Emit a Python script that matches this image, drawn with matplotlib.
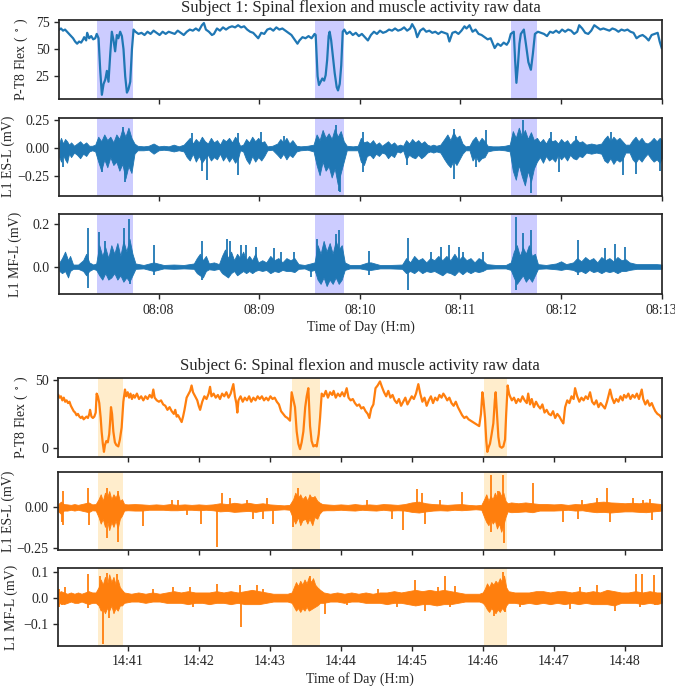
import numpy as np
import matplotlib
matplotlib.use("Agg")
import matplotlib.pyplot as plt
from matplotlib.ticker import FuncFormatter, MultipleLocator, FixedLocator

plt.rcParams['font.family'] = ['Liberation Serif', 'DejaVu Serif']
plt.rcParams['mathtext.fontset'] = 'stix'
plt.rcParams['font.size'] = 10
plt.rcParams['axes.edgecolor'] = '.15'
plt.rcParams['axes.linewidth'] = 1.25
plt.rcParams['xtick.color'] = '.15'
plt.rcParams['ytick.color'] = '.15'
plt.rcParams['text.color'] = '.15'
plt.rcParams['axes.labelcolor'] = '.15'

# ---------------- Subject 1 (08:xx), time in minutes past the hour ----------------
s1_hour = 8
s1_shades = [(7.383, 7.749), (9.551, 9.843), (11.50, 11.765)]

s1_flex_t = [7.014, 7.03, 7.05, 7.07, 7.09, 7.11, 7.13, 7.15, 7.17, 7.19, 7.21, 7.23, 7.25, 7.26, 7.28, 7.29,
             7.31, 7.33, 7.35, 7.37, 7.385, 7.403, 7.42, 7.436, 7.453, 7.47, 7.486, 7.502, 7.519, 7.535, 7.552,
             7.568, 7.585, 7.60, 7.618, 7.635, 7.651, 7.668, 7.685, 7.70, 7.718, 7.735, 7.751,
             7.77, 7.80, 7.83, 7.86, 7.89, 7.92, 7.95, 7.98, 8.01, 8.04, 8.07, 8.10, 8.13, 8.16, 8.19, 8.22,
             8.25, 8.28, 8.31, 8.34, 8.37, 8.40, 8.43, 8.45, 8.47, 8.50, 8.53, 8.55, 8.58, 8.61, 8.64, 8.67,
             8.70, 8.73, 8.76, 8.79, 8.82, 8.85, 8.88, 8.91, 8.94, 8.97, 8.99, 9.02, 9.05, 9.08, 9.11, 9.14,
             9.17, 9.20, 9.23, 9.26, 9.29, 9.32, 9.35, 9.38, 9.40, 9.43, 9.46, 9.49, 9.52, 9.55,
             9.561, 9.570, 9.580, 9.594, 9.61, 9.627, 9.645, 9.66, 9.675, 9.69, 9.70, 9.715, 9.73, 9.75, 9.77,
             9.783, 9.80, 9.815, 9.83, 9.845,
             9.87, 9.90, 9.93, 9.96, 9.99, 10.02, 10.05, 10.08, 10.11, 10.14, 10.17, 10.20, 10.23, 10.26,
             10.29, 10.32, 10.35, 10.38, 10.41, 10.44, 10.47, 10.50, 10.52, 10.55, 10.57, 10.60, 10.63, 10.66,
             10.69, 10.72, 10.75, 10.78, 10.81, 10.84, 10.87, 10.89, 10.92, 10.95, 10.98, 11.01, 11.04, 11.06,
             11.09, 11.12, 11.15, 11.18, 11.21, 11.24, 11.27, 11.30, 11.34, 11.37, 11.40, 11.43, 11.46, 11.48,
             11.50, 11.53, 11.543, 11.556, 11.57, 11.586, 11.60, 11.63, 11.65, 11.675, 11.70, 11.72, 11.74, 11.77,
             11.80, 11.83, 11.86, 11.89, 11.92, 11.95, 11.98, 12.01, 12.04, 12.07, 12.10, 12.13, 12.16, 12.18,
             12.21, 12.24, 12.27, 12.30, 12.33, 12.36, 12.39, 12.42, 12.45, 12.48, 12.51, 12.54, 12.57, 12.60,
             12.63, 12.66, 12.69, 12.72, 12.75, 12.78, 12.81, 12.84, 12.87, 12.90, 12.93, 12.96, 12.98, 13.0]
s1_flex_v = [68, 69, 67, 68, 66, 64, 62, 60, 57, 55, 57, 56, 59, 61, 58, 65,
             60, 62, 59, 60, 64, 60, 30, 8, 18, 22, 30, 20, 45, 66, 58,
             48, 63, 60, 66, 62, 50, 25, 10, 13, 20, 50, 68,
             66, 64, 65, 63, 66, 64, 67, 65, 63, 66, 64, 66, 65, 64, 67, 65,
             63, 66, 68, 67, 69, 67, 72, 74, 68, 66, 63, 64, 69, 67, 70, 68,
             70, 71, 70, 72, 70, 71, 68, 66, 65, 62, 60, 65, 64, 68, 69, 67,
             70, 68, 69, 67, 65, 63, 59, 55, 58, 61, 60, 62, 60, 64,
             63, 45, 25, 17, 20, 23, 21, 26, 40, 62, 66, 58, 45, 28, 15,
             12, 18, 35, 66, 68,
             64, 66, 63, 65, 62, 64, 61, 58, 63, 66, 64, 67, 65, 66,
             68, 67, 69, 67, 68, 70, 67, 69, 73, 68, 61, 67, 69, 66,
             67, 65, 66, 64, 66, 65, 64, 57, 65, 66, 64, 67, 71, 69,
             72, 66, 68, 64, 63, 61, 59, 60, 51, 55, 53, 56, 54, 57,
             64, 66, 40, 19, 34, 55, 64, 68, 55, 38, 31, 46, 64, 66,
             65, 64, 62, 66, 65, 67, 65, 68, 66, 68, 67, 64, 66, 72,
             69, 65, 64, 67, 72, 70, 68, 69, 68, 67, 69, 68, 66, 68,
             67, 68, 66, 65, 60, 62, 63, 61, 58, 63, 64, 65, 57, 51]

s1_es_t = [7.014, 7.03, 7.05, 7.07, 7.09, 7.11, 7.13, 7.16, 7.19, 7.22, 7.25, 7.28, 7.31, 7.34, 7.37,
           7.40, 7.43, 7.46, 7.49, 7.52, 7.55, 7.58, 7.61, 7.64, 7.67, 7.70, 7.73,
           7.76, 7.79, 7.85, 7.90, 7.95, 8.00, 8.05, 8.10, 8.15, 8.20, 8.25,
           8.28, 8.31, 8.34, 8.37, 8.40, 8.43, 8.46, 8.49, 8.52, 8.55, 8.58, 8.61, 8.64, 8.67, 8.70, 8.73, 8.76, 8.79,
           8.81, 8.84,
           8.87, 8.90, 8.93, 8.96, 8.99, 9.02, 9.05,
           9.08, 9.13,
           9.18, 9.21, 9.24, 9.27, 9.30, 9.33,
           9.37, 9.41, 9.48, 9.54,
           9.57, 9.60, 9.63, 9.66, 9.69, 9.72, 9.75, 9.78, 9.81, 9.84,
           9.87, 9.93, 9.98,
           10.01, 10.04, 10.07,
           10.10, 10.13, 10.16, 10.19, 10.22, 10.25, 10.28, 10.31, 10.34,
           10.37, 10.40, 10.43,
           10.46, 10.49, 10.52, 10.55, 10.58, 10.61, 10.64,
           10.67, 10.70, 10.73, 10.76, 10.80,
           10.84, 10.87, 10.90, 10.93, 10.96, 10.99,
           11.02, 11.05, 11.09,
           11.12, 11.15, 11.18, 11.21, 11.24,
           11.27, 11.32, 11.38, 11.44, 11.49,
           11.52, 11.55, 11.58, 11.61, 11.64, 11.67, 11.70, 11.73,
           11.76, 11.79, 11.82, 11.85, 11.88, 11.91, 11.94, 11.97, 12.00, 12.03, 12.06, 12.09, 12.12, 12.15, 12.18, 12.21,
           12.25, 12.30, 12.35, 12.40,
           12.43, 12.46, 12.49, 12.52, 12.55, 12.58, 12.61,
           12.64, 12.68,
           12.71, 12.74, 12.77, 12.80, 12.83, 12.86, 12.89, 12.92, 12.95, 12.98, 13.0]
s1_es_hi = [.05, .09, .04, .08, .06, .03, .05, .02, .04, .06, .03, .05, .02, .02, .03,
            .10, .06, .12, .07, .10, .05, .12, .08, .17, .10, .18, .09,
            .04, .02, .015, .02, .04, .015, .02, .015, .03, .015, .03,
            .06, .09, .04, .08, .05, .10, .06, .04, .09, .05, .07, .03, .08, .06, .09, .05, .10, .06,
            .02, .03,
            .08, .05, .10, .06, .09, .05, .06,
            .015, .02,
            .04, .08, .05, .09, .04, .07,
            .02, .015, .02, .03,
            .12, .07, .16, .09, .13, .08, .17, .10, .15, .06,
            .02, .015, .02,
            .09, .05, .06,
            .04, .07, .03, .05, .02, .04, .06, .03, .05,
            .02, .03, .02,
            .07, .04, .08, .05, .07, .04, .06,
            .03, .02, .03, .02, .03,
            .08, .12, .07, .14, .09, .11,
            .04, .015, .02,
            .07, .10, .05, .09, .06,
            .02, .015, .015, .02, .03,
            .15, .09, .18, .10, .16, .08, .14, .07,
            .09, .05, .08, .04, .09, .06, .07, .04, .08, .05, .07, .03, .06, .08, .05, .06,
            .03, .04, .03, .04,
            .08, .11, .06, .10, .07, .09, .06,
            .03, .03,
            .07, .10, .06, .09, .05, .04, .06, .09, .06, .09, .07]
s1_es_lo = [-.08, -.12, -.06, -.10, -.13, -.05, -.08, -.04, -.06, -.09, -.05, -.07, -.03, -.02, -.03,
            -.12, -.20, -.10, -.17, -.08, -.15, -.12, -.20, -.14, -.27, -.16, -.22,
            -.05, -.02, -.02, -.015, -.05, -.02, -.015, -.02, -.03, -.02, -.03,
            -.08, -.11, -.05, -.12, -.07, -.13, -.09, -.06, -.11, -.08, -.10, -.05, -.11, -.07, -.12, -.08, -.13, -.09,
            -.02, -.03,
            -.10, -.14, -.07, -.12, -.08, -.11, -.07,
            -.02, -.015,
            -.06, -.09, -.05, -.10, -.06, -.08,
            -.03, -.02, -.015, -.03,
            -.15, -.24, -.12, -.20, -.16, -.26, -.18, -.32, -.22, -.12,
            -.02, -.02, -.02,
            -.12, -.15, -.07,
            -.06, -.09, -.05, -.07, -.04, -.05, -.09, -.06, -.08,
            -.03, -.04, -.02,
            -.10, -.06, -.08, -.09, -.06, -.09, -.07,
            -.04, -.03, -.04, -.03, -.04,
            -.10, -.14, -.17, -.11, -.15, -.10,
            -.05, -.02, -.02,
            -.11, -.07, -.12, -.09, -.08,
            -.03, -.02, -.015, -.02, -.03,
            -.20, -.28, -.15, -.25, -.33, -.20, -.30, -.18,
            -.12, -.08, -.13, -.07, -.11, -.09, -.12, -.06, -.10, -.07, -.11, -.06, -.09, -.10, -.07, -.08,
            -.04, -.05, -.04, -.05,
            -.11, -.13, -.09, -.14, -.10, -.12, -.10,
            -.04, -.04,
            -.10, -.13, -.09, -.12, -.08, -.05, -.09, -.12, -.10, -.13, -.09]
s1_es_spk_t = [7.054, 7.436, 7.651, 7.668, 8.332, 8.432, 8.482, 8.787, 8.79, 9.013, 9.245, 9.760, 9.793,
               9.803, 10.032, 10.467, 10.932, 10.938, 11.154, 11.254, 11.619, 11.702, 11.901, 11.984,
               12.150, 12.499, 12.615, 12.748, 12.98]
s1_es_spk_hi = [0, 0, .19, 0, .13, 0, 0, 0, .13, .14, .11, .20, 0,
                0, .14, 0, .17, 0, 0, .16, .245, 0, .14, 0,
                .11, .14, 0, 0, 0]
s1_es_spk_lo = [-.17, -.21, 0, -.30, 0, -.20, -.28, -.24, 0, 0, 0, 0, -.38,
                -.39, -.21, -.15, 0, -.27, -.17, 0, 0, -.40, 0, -.21,
                0, 0, -.24, -.23, -.20]

s1_mf_t = [7.014, 7.04, 7.07, 7.10, 7.12, 7.15, 7.20, 7.25, 7.28, 7.31, 7.35, 7.38,
           7.41, 7.44, 7.47, 7.50, 7.53, 7.56, 7.59, 7.62, 7.65, 7.68, 7.71, 7.74,
           7.77, 7.85, 7.95, 8.05, 8.15, 8.25, 8.35,
           8.38, 8.41, 8.44, 8.47, 8.50, 8.55, 8.60,
           8.63, 8.66, 8.69, 8.72, 8.75, 8.78, 8.81, 8.84, 8.87, 8.90, 8.93, 8.96, 8.99,
           9.03, 9.07, 9.11, 9.15, 9.19, 9.23, 9.27, 9.31, 9.35,
           9.39, 9.45, 9.51, 9.55,
           9.58, 9.61, 9.64, 9.67, 9.70, 9.73, 9.76, 9.79, 9.82,
           9.85, 9.90, 10.00, 10.08, 10.11, 10.20, 10.30, 10.42,
           10.46, 10.50, 10.54, 10.58, 10.62, 10.66, 10.70, 10.74, 10.78, 10.82, 10.86, 10.90, 10.94, 10.98,
           11.02, 11.06, 11.10, 11.14, 11.18, 11.22,
           11.26, 11.35, 11.45, 11.50,
           11.53, 11.56, 11.59, 11.62, 11.65, 11.68, 11.71, 11.74,
           11.77, 11.85, 11.95, 12.00, 12.05, 12.12,
           12.16, 12.20, 12.24, 12.28, 12.32, 12.36, 12.40, 12.44, 12.48, 12.52, 12.56, 12.60, 12.64,
           12.68, 12.75, 12.85, 12.95, 13.0]
s1_mf_hi = [.02, .04, .07, .03, .05, .01, .01, .03, .06, .02, .01, .015,
            .10, .05, .09, .04, .10, .06, .11, .05, .12, .07, .13, .06,
            .015, .008, .02, .008, .01, .008, .015,
            .04, .06, .03, .05, .015, .02, .012,
            .05, .08, .04, .07, .03, .06, .04, .07, .03, .05, .03, .06, .02,
            .03, .02, .05, .03, .04, .02, .04, .03, .04,
            .012, .008, .015, .02,
            .10, .06, .12, .07, .11, .06, .12, .08, .10,
            .02, .008, .008, .02, .02, .008, .008, .01,
            .04, .02, .05, .03, .04, .02, .04, .03, .05, .03, .05, .03, .06, .03,
            .05, .03, .04, .02, .04, .03,
            .012, .008, .008, .02,
            .07, .10, .05, .09, .06, .10, .05, .06,
            .012, .008, .015, .025, .012, .02,
            .04, .025, .045, .03, .04, .02, .045, .03, .04, .025, .045, .03, .035,
            .02, .012, .012, .012, .01]
s1_mf_lo = [-.02, -.03, -.02, -.05, -.02, -.01, -.01, -.02, -.04, -.02, -.01, -.015,
            -.04, -.06, -.03, -.06, -.05, -.03, -.06, -.04, -.07, -.05, -.07, -.04,
            -.01, -.008, -.02, -.008, -.01, -.008, -.01,
            -.03, -.04, -.05, -.02, -.012, -.015, -.01,
            -.03, -.04, -.05, -.03, -.02, -.04, -.03, -.02, -.03, -.02, -.03, -.02, -.015,
            -.02, -.015, -.03, -.02, -.025, -.015, -.02, -.02, -.025,
            -.01, -.008, -.02, -.015,
            -.06, -.08, -.05, -.09, -.06, -.08, -.05, -.08, -.06,
            -.015, -.008, -.008, -.015, -.015, -.008, -.008, -.01,
            -.03, -.02, -.03, -.015, -.03, -.02, -.025, -.02, -.03, -.04, -.025, -.03, -.04, -.02,
            -.035, -.02, -.03, -.02, -.025, -.02,
            -.01, -.008, -.008, -.015,
            -.05, -.08, -.06, -.04, -.07, -.05, -.07, -.04,
            -.01, -.008, -.012, -.015, -.01, -.015,
            -.025, -.02, -.03, -.015, -.025, -.02, -.03, -.02, -.025, -.02, -.03, -.02, -.02,
            -.015, -.01, -.01, -.01, -.01]
s1_mf_spk_t = [7.294, 7.410, 7.469, 7.659, 7.701, 7.718, 7.951, 8.432, 8.681, 8.714, 8.814, 8.864, 8.964,
               9.146, 9.212, 9.345, 9.511, 9.577, 9.76, 9.793, 10.092, 10.474, 10.706, 10.806, 10.889,
               10.988, 11.021, 11.221, 11.553, 11.619, 11.702, 12.167, 12.432, 12.532, 12.632]
s1_mf_spk_hi = [.18, .16, .12, .18, .22, 0, .10, .12, .13, .12, .10, .10, .09,
                .085, .07, .07, 0, .13, .15, .17, .075, .135, .07, .09, .10,
                .09, .07, .07, .23, .155, .17, .125, .085, .105, .09]
s1_mf_spk_lo = [-.10, 0, 0, 0, 0, -.08, -.04, -.06, 0, 0, 0, 0, 0,
                0, 0, 0, -.05, 0, 0, 0, -.04, -.11, 0, 0, 0,
                0, 0, 0, -.11, 0, 0, -.04, 0, 0, 0]

# ---------------- Subject 6 (14:xx) ----------------
s6_hour = 14
s6_shades = [(40.582, 40.934), (43.314, 43.713), (46.018, 46.342)]

s6_flex_t = [40.023, 40.04, 40.06, 40.08, 40.10, 40.12, 40.14, 40.16, 40.18, 40.20, 40.22, 40.24, 40.26,
             40.28, 40.30, 40.32, 40.34, 40.36, 40.38, 40.40, 40.42, 40.44, 40.46, 40.47, 40.49, 40.51,
             40.53, 40.55, 40.563, 40.58, 40.60, 40.62, 40.633, 40.65, 40.666, 40.68, 40.70, 40.72, 40.74,
             40.751, 40.765, 40.78, 40.798, 40.82, 40.84, 40.868, 40.89, 40.915, 40.939, 40.962, 40.98,
             41.00, 41.02, 41.04, 41.06, 41.08, 41.10, 41.13, 41.16, 41.19, 41.22, 41.25, 41.28, 41.31,
             41.34, 41.361, 41.38, 41.41, 41.44, 41.47, 41.50, 41.53, 41.56, 41.59, 41.62, 41.65, 41.67,
             41.69, 41.71, 41.74, 41.76, 41.78, 41.80, 41.83, 41.86, 41.88, 41.90, 41.92, 41.95, 41.98,
             42.00, 42.02, 42.05, 42.08, 42.11, 42.14, 42.16, 42.18, 42.21, 42.24, 42.27, 42.30, 42.33,
             42.36, 42.39, 42.42, 42.45, 42.488, 42.51, 42.53, 42.544, 42.56, 42.59, 42.62, 42.65, 42.68,
             42.71, 42.74, 42.77, 42.80, 42.83, 42.86, 42.89, 42.92, 42.95, 42.98, 43.01, 43.04, 43.07,
             43.10, 43.13, 43.16, 43.19, 43.22, 43.25, 43.286, 43.309, 43.33, 43.356, 43.38, 43.403,
             43.427, 43.45, 43.474, 43.50, 43.521, 43.544, 43.568, 43.59, 43.615, 43.64, 43.662, 43.69,
             43.709, 43.732, 43.76, 43.79, 43.82, 43.85, 43.88, 43.90, 43.93, 43.96, 43.99, 44.02, 44.05,
             44.084, 44.11, 44.14, 44.17, 44.20, 44.23, 44.26, 44.29, 44.32, 44.35, 44.38, 44.403, 44.43,
             44.46, 44.49, 44.52, 44.553, 44.58, 44.61, 44.64, 44.67, 44.70, 44.73, 44.76, 44.79, 44.82,
             44.85, 44.88, 44.91, 44.94, 44.97, 45.00, 45.03, 45.06, 45.093, 45.12, 45.15, 45.18, 45.21,
             45.24, 45.27, 45.30, 45.33, 45.36, 45.39, 45.42, 45.445, 45.47, 45.50, 45.53, 45.56, 45.59,
             45.62, 45.65, 45.68, 45.71, 45.74, 45.77, 45.80, 45.83, 45.86, 45.89, 45.92, 45.95, 45.975,
             45.995, 46.01, 46.032, 46.05, 46.065, 46.08, 46.102, 46.125, 46.149, 46.17, 46.182, 46.20,
             46.220, 46.24, 46.267, 46.29, 46.314, 46.33, 46.351, 46.37, 46.384, 46.41, 46.44, 46.47,
             46.50, 46.53, 46.56, 46.59, 46.62, 46.64, 46.666, 46.69, 46.72, 46.75, 46.78, 46.81, 46.84,
             46.87, 46.90, 46.93, 46.96, 46.99, 47.02, 47.05, 47.08, 47.11, 47.135, 47.16, 47.19, 47.22,
             47.25, 47.28, 47.30, 47.33, 47.36, 47.39, 47.42, 47.45, 47.48, 47.511, 47.54, 47.57, 47.60,
             47.63, 47.66, 47.69, 47.72, 47.75, 47.793, 47.82, 47.85, 47.88, 47.91, 47.94, 47.97, 47.99,
             48.02, 48.05, 48.08, 48.11, 48.14, 48.17, 48.20, 48.239, 48.26, 48.29, 48.32, 48.35, 48.38,
             48.403, 48.43, 48.46, 48.49, 48.52]
s6_flex_v = [39, 37, 38, 35, 37, 34, 35, 33, 34, 31, 29, 27, 26,
             24, 25, 23, 22, 23, 21, 22, 23, 22, 25, 28, 23, 22,
             23, 26, 40, 38, 33, 22, 12, 3, -3, 2, 5, 4, 10,
             18, 30, 25, 12, 4, 2, 1, 6, 15, 34, 43, 38,
             41, 37, 40, 36, 39, 37, 40, 36, 38, 35, 38, 36, 39,
             37, 43, 37, 35, 34, 35, 32, 31, 28, 30, 27, 25, 28,
             23, 24, 21, 19, 23, 28, 37, 40, 42, 46, 41, 38, 35,
             31, 28, 34, 38, 36, 40, 45, 38, 40, 37, 39, 36, 40,
             38, 41, 37, 40, 47, 38, 33, 26, 35, 38, 34, 37, 35,
             38, 34, 37, 35, 38, 36, 38, 35, 37, 35, 38, 36, 37,
             34, 32, 27, 25, 23, 22, 20, 41, 36, 30, 12, 3,
             -1, 4, 12, 30, 38, 44, 16, 5, 1, 2, 1, 10,
             22, 40, 38, 42, 37, 41, 39, 42, 37, 40, 38, 41, 38,
             44, 37, 35, 36, 33, 31, 32, 29, 30, 27, 25, 22, 29,
             32, 44, 46, 49, 45, 41, 38, 42, 37, 39, 35, 33, 36,
             31, 34, 37, 32, 35, 38, 36, 40, 47, 40, 34, 37, 31,
             35, 38, 33, 37, 35, 39, 37, 40, 38, 35, 37, 33, 31,
             34, 30, 27, 24, 22, 23, 21, 20, 19, 18, 17, 16, 25,
             41, 35, 22, 5, -3, 0, 3, 10, 18, 35, 41, 25,
             8, 1, 0, 1, 6, 25, 46, 40, 38, 35, 37, 33,
             36, 34, 38, 35, 33, 40, 32, 36, 30, 34, 31, 29, 32,
             26, 28, 25, 24, 27, 22, 25, 23, 20, 18, 30, 35, 33,
             38, 36, 44, 38, 34, 37, 35, 38, 36, 41, 34, 32, 35,
             30, 33, 31, 29, 34, 43, 37, 33, 36, 34, 38, 35, 39,
             37, 40, 36, 39, 37, 40, 36, 43, 36, 32, 35, 31, 33,
             30, 27, 25, 24, 22]

s6_es_t = [40.023, 40.06, 40.10, 40.15, 40.20, 40.25, 40.30, 40.35, 40.40, 40.45, 40.50, 40.55,
           40.59, 40.62, 40.65, 40.68, 40.71, 40.74, 40.77, 40.80, 40.83, 40.86, 40.89, 40.92,
           40.95, 41.00, 41.10, 41.20, 41.30, 41.40, 41.50, 41.60, 41.70, 41.80, 41.90, 42.00, 42.10,
           42.20, 42.30, 42.40, 42.50, 42.60, 42.70, 42.80, 42.90, 43.00, 43.10, 43.20, 43.28,
           43.33, 43.36, 43.40, 43.43, 43.46, 43.50, 43.53, 43.56, 43.60, 43.63, 43.67, 43.70,
           43.74, 43.80, 43.90, 44.00, 44.10, 44.20, 44.30, 44.40, 44.50, 44.60, 44.70, 44.80, 44.90,
           45.00, 45.10, 45.20, 45.30, 45.40, 45.50, 45.60, 45.70, 45.80, 45.90, 45.98,
           46.02, 46.05, 46.08, 46.11, 46.14, 46.17, 46.20, 46.23, 46.26, 46.29, 46.32,
           46.35, 46.40, 46.50, 46.60, 46.70, 46.80, 46.90, 47.00, 47.10, 47.20, 47.30, 47.40, 47.50,
           47.60, 47.70, 47.80, 47.90, 48.00, 48.10, 48.20, 48.30, 48.40, 48.52]
s6_es_hi = [.02, .035, .02, .018, .015, .02, .015, .02, .025, .03, .018, .02,
            .05, .08, .04, .09, .06, .10, .05, .08, .06, .09, .04, .05,
            .02, .018, .02, .018, .015, .018, .015, .02, .015, .018, .015, .018, .015,
            .018, .025, .02, .028, .022, .028, .02, .025, .018, .015, .012, .015,
            .05, .09, .06, .08, .05, .07, .04, .08, .05, .07, .04, .03,
            .02, .018, .015, .018, .015, .02, .015, .018, .015, .02, .018, .015, .02,
            .03, .035, .025, .02, .018, .015, .018, .02, .015, .012, .015,
            .05, .08, .04, .07, .05, .09, .06, .10, .07, .09, .04,
            .025, .03, .025, .03, .025, .02, .02, .018, .02, .015, .02, .018, .025,
            .032, .035, .03, .028, .025, .028, .025, .03, .025, .02]
s6_es_lo = [-.025, -.04, -.02, -.02, -.015, -.02, -.015, -.02, -.025, -.03, -.018, -.02,
            -.06, -.10, -.07, -.12, -.08, -.14, -.09, -.12, -.08, -.13, -.07, -.05,
            -.02, -.018, -.02, -.02, -.015, -.015, -.015, -.018, -.018, -.015, -.015, -.018, -.015,
            -.018, -.025, -.022, -.028, -.025, -.022, -.028, -.02, -.018, -.015, -.012, -.015,
            -.07, -.10, -.06, -.11, -.08, -.07, -.10, -.07, -.11, -.06, -.07, -.04,
            -.02, -.018, -.018, -.015, -.018, -.02, -.015, -.018, -.02, -.015, -.02, -.018, -.02,
            -.028, -.032, -.025, -.02, -.018, -.02, -.015, -.018, -.015, -.012, -.015,
            -.06, -.09, -.11, -.07, -.10, -.08, -.13, -.10, -.15, -.11, -.06,
            -.025, -.03, -.028, -.025, -.03, -.02, -.02, -.02, -.018, -.015, -.02, -.018, -.025,
            -.03, -.028, -.032, -.028, -.025, -.025, -.028, -.03, -.025, -.02]
s6_es_spk_t = [40.07, 40.093, 40.445, 40.459, 40.713, 40.868, 41.22, 41.62, 41.713, 41.83, 42.032,
               42.253, 42.323, 42.441, 42.676, 42.77, 42.911, 42.958, 43.052, 43.333, 43.403, 43.615,
               44.365, 44.718, 44.872, 45.079, 45.14, 45.187, 45.398, 45.703, 46.056, 46.117, 46.22,
               46.29, 46.305, 46.713, 47.135, 47.347, 47.394, 47.605, 47.746, 47.793, 48.121, 48.262,
               48.356, 48.38]
s6_es_spk_hi = [0, .10, .12, 0, .12, .10, 0, .045, .045, 0, 0,
                0, .086, .055, .045, 0, 0, .055, 0, 0, .12, .065,
                .045, 0, 0, .11, .086, 0, .045, .096, 0, .20, .10,
                .20, 0, .15, 0, 0, .045, .055, .12, 0, .055, .045,
                .05, 0]
s6_es_spk_lo = [-.09, -.11, 0, -.11, -.19, -.21, -.115, 0, 0, -.05, -.10,
                -.245, 0, 0, 0, -.07, -.07, 0, -.10, -.12, 0, 0,
                0, -.07, -.14, 0, 0, -.10, 0, 0, -.06, -.15, 0,
                0, -.22, 0, -.09, -.07, 0, 0, 0, -.09, 0, 0,
                0, -.08]

s6_mf_t = [40.023, 40.06, 40.10, 40.15, 40.20, 40.25, 40.30, 40.35, 40.40, 40.45, 40.50, 40.55,
           40.59, 40.62, 40.65, 40.68, 40.71, 40.74, 40.77, 40.80, 40.83, 40.86, 40.89, 40.92,
           40.95, 41.05, 41.15, 41.25, 41.35, 41.45, 41.55, 41.65, 41.75, 41.85, 41.95, 42.05, 42.15,
           42.25, 42.35, 42.45, 42.55, 42.65, 42.75, 42.85, 42.95, 43.05, 43.15, 43.25, 43.31,
           43.34, 43.37, 43.40, 43.43, 43.46, 43.49, 43.52, 43.55, 43.58, 43.61, 43.64, 43.67,
           43.71, 43.76, 43.85, 43.95, 44.05, 44.15, 44.25, 44.35, 44.45, 44.55, 44.65, 44.75, 44.85,
           44.95, 45.05, 45.15, 45.25, 45.35, 45.45, 45.55, 45.65, 45.75, 45.85, 45.95, 46.00,
           46.03, 46.06, 46.09, 46.12, 46.15, 46.18, 46.21, 46.24, 46.27, 46.30, 46.33,
           46.36, 46.45, 46.55, 46.65, 46.75, 46.85, 46.95, 47.05, 47.15, 47.25, 47.35, 47.45, 47.55,
           47.65, 47.75, 47.85, 47.95, 48.05, 48.15, 48.25, 48.35, 48.45, 48.52]
s6_mf_hi = [.02, .025, .02, .015, .02, .015, .02, .015, .02, .025, .02, .02,
            .04, .07, .05, .08, .05, .09, .06, .08, .05, .07, .04, .03,
            .02, .015, .02, .015, .02, .015, .02, .025, .02, .025, .02, .02, .02,
            .025, .02, .025, .02, .025, .03, .025, .02, .015, .015, .015, .02,
            .04, .06, .045, .065, .05, .07, .055, .08, .06, .075, .05, .04,
            .03, .02, .015, .02, .015, .02, .015, .02, .015, .02, .02, .025, .02,
            .025, .03, .025, .03, .025, .03, .025, .02, .015, .015, .015, .02,
            .035, .055, .04, .06, .05, .065, .055, .075, .06, .085, .04,
            .025, .02, .02, .02, .025, .025, .02, .025, .025, .02, .025, .02, .025,
            .02, .03, .025, .02, .02, .025, .02, .025, .02, .02]
s6_mf_lo = [-.025, -.02, -.025, -.02, -.015, -.02, -.02, -.015, -.02, -.025, -.02, -.02,
            -.03, -.05, -.04, -.06, -.04, -.05, -.03, -.06, -.04, -.05, -.03, -.03,
            -.02, -.015, -.015, -.02, -.015, -.015, -.02, -.02, -.02, -.025, -.02, -.02, -.025,
            -.02, -.02, -.025, -.02, -.025, -.025, -.025, -.02, -.015, -.015, -.015, -.02,
            -.035, -.05, -.04, -.055, -.04, -.05, -.035, -.05, -.045, -.04, -.035, -.03,
            -.02, -.02, -.015, -.015, -.02, -.015, -.015, -.02, -.02, -.02, -.025, -.02, -.02,
            -.025, -.03, -.025, -.025, -.03, -.025, -.025, -.02, -.015, -.015, -.015, -.02,
            -.03, -.045, -.055, -.04, -.05, -.06, -.045, -.055, -.04, -.05, -.03,
            -.02, -.02, -.025, -.02, -.025, -.02, -.025, -.02, -.025, -.02, -.025, -.02, -.025,
            -.025, -.025, -.03, -.02, -.02, -.02, -.025, -.02, -.025, -.02]
s6_mf_spk_t = [40.037, 40.07, 40.117, 40.445, 40.61, 40.648, 40.704, 40.741, 40.854, 41.361, 41.643,
               41.877, 41.924, 42.253, 42.582, 42.591, 42.816, 42.911, 43.38, 43.568, 43.779, 44.084,
               44.53, 44.788, 45.023, 45.046, 45.187, 45.375, 45.469, 45.539, 45.61, 46.164, 46.29,
               46.314, 46.525, 47.229, 47.37, 47.605, 47.863, 48.159, 48.215, 48.239, 48.412, 48.427]
s6_mf_spk_hi = [.035, 0, .04, .09, .085, 0, .095, 0, .09, .035, .04,
                .04, 0, .054, .047, 0, .047, .035, 0, .082, 0, 0,
                .035, 0, 0, .067, 0, .04, .082, 0, .044, 0, .10,
                0, 0, 0, .04, .047, 0, .09, 0, .09, .086, 0]
s6_mf_spk_lo = [-.036, -.03, 0, -.04, 0, -.177, 0, -.08, 0, 0, 0,
                0, -.035, 0, 0, -.113, 0, 0, -.03, 0, -.064, -.03,
                0, -.035, -.03, 0, -.05, 0, 0, -.035, 0, -.07, 0,
                -.055, -.035, -.042, 0, 0, -.05, 0, -.035, 0, 0, -.03]

ylab_flex = 'P-T8 Flex ( $^\\circ$ )'
ylab_es = 'L1 ES-L (mV)'
ylab_mf = 'L1 MF-L (mV)'
xlab = 'Time of Day (H:m)'
title1 = 'Subject 1: Spinal flexion and muscle activity raw data'
title6 = 'Subject 6: Spinal flexion and muscle activity raw data'

BLUE = '#1f77b4'
ORANGE = '#ff7f0e'

W, H = 675, 686
fig = plt.figure(figsize=(W / 100, H / 100), dpi=100)


def px_axes(left, top, right, bottom):
    return fig.add_axes([left / W, 1 - bottom / H, (right - left) / W, (bottom - top) / H])


def fmt_time(hour):
    return FuncFormatter(lambda v, p: f"{hour:02d}:{int(round(v)) % 60:02d}")


def emg(ax, t, hi, lo, st, shi, slo, color):
    rows = list(zip(t, hi, lo))
    tt = [r[0] for r in rows]
    hh = [r[1] for r in rows]
    ll = [r[2] for r in rows]
    ax.fill_between(tt, ll, hh, color=color, lw=0.6, edgecolor=color)
    srows = list(zip(st, shi, slo))
    ax.vlines([r[0] for r in srows], [r[2] for r in srows], [r[1] for r in srows], colors=color, lw=1.3)


def setup(ax, xlim, ylim, yticks, yfmt, hour, shades, shade_color, ylabel, labx, show_x):
    for a, b in shades:
        ax.axvspan(a, b, color=shade_color, alpha=0.2, lw=0, zorder=0)
    ax.set_xlim(*xlim)
    ax.set_ylim(*ylim)
    ax.yaxis.set_major_locator(FixedLocator(yticks))
    ax.yaxis.set_major_formatter(FuncFormatter(lambda v, p: yfmt.format(v).replace('-', '\u2212')))
    ax.xaxis.set_major_locator(MultipleLocator(1))
    ax.xaxis.set_major_formatter(fmt_time(hour))
    ax.tick_params(labelsize=10, width=1.0, length=3.5)
    ax.set_ylabel(ylabel, fontsize=10, va='center')
    ax.yaxis.set_label_coords(labx, 0.5)
    if not show_x:
        ax.tick_params(labelbottom=False)


# ---- Subject 1 ----
L1, R1 = 59.3, 661.7
xl1 = (7.013, 13.0)
a1 = px_axes(L1, 20, R1, 98.7)
a1.plot(s1_flex_t, s1_flex_v, color=BLUE, lw=1.6)
setup(a1, xl1, (4.4, 76.8), [25, 50, 75], '{:.0f}', s1_hour, s1_shades, 'blue', ylab_flex, -0.0624, False)

a2 = px_axes(L1, 117.7, R1, 195.7)
emg(a2, s1_es_t, s1_es_hi, s1_es_lo, s1_es_spk_t, s1_es_spk_hi, s1_es_spk_lo, BLUE)
setup(a2, xl1, (-0.421, 0.268), [-0.25, 0, 0.25], '{:.2f}', s1_hour, s1_shades, 'blue', ylab_es, -0.0847, False)

a3 = px_axes(L1, 214, R1, 294)
emg(a3, s1_mf_t, s1_mf_hi, s1_mf_lo, s1_mf_spk_t, s1_mf_spk_hi, s1_mf_spk_lo, BLUE)
setup(a3, xl1, (-0.127, 0.245), [0.0, 0.2], '{:.1f}', s1_hour, s1_shades, 'blue', ylab_mf, -0.0735, True)
a3.set_xlabel(xlab, fontsize=10, labelpad=2.5)
fig.text((L1 + R1) / 2 / W, 1 - 12 / H, title1, ha='center', va='baseline', fontsize=12)

# ---- Subject 6 ----
L2, R2 = 58.3, 661.7
xl6 = (40.023, 48.52)
b1 = px_axes(L2, 378.3, R2, 456.7)
b1.plot(s6_flex_t, s6_flex_v, color=ORANGE, lw=1.6)
setup(b1, xl6, (-6.6, 51.3), [0, 50], '{:.0f}', s6_hour, s6_shades, 'orange', ylab_flex, -0.0607, False)

b2 = px_axes(L2, 472.3, R2, 550)
emg(b2, s6_es_t, s6_es_hi, s6_es_lo, s6_es_spk_t, s6_es_spk_hi, s6_es_spk_lo, ORANGE)
setup(b2, xl6, (-0.262, 0.215), [-0.25, 0.0], '{:.2f}', s6_hour, s6_shades, 'orange', ylab_es, -0.0829, False)

b3 = px_axes(L2, 568.3, R2, 645.7)
emg(b3, s6_mf_t, s6_mf_hi, s6_mf_lo, s6_mf_spk_t, s6_mf_spk_hi, s6_mf_spk_lo, ORANGE)
setup(b3, xl6, (-0.185, 0.113), [-0.1, 0.0, 0.1], '{:.1f}', s6_hour, s6_shades, 'orange', ylab_mf, -0.0772, True)
b3.set_xlabel(xlab, fontsize=10, labelpad=2.5)
fig.text((L2 + R2) / 2 / W, 1 - 370 / H, title6, ha='center', va='baseline', fontsize=12)

fig.savefig('out.png', dpi=100)
